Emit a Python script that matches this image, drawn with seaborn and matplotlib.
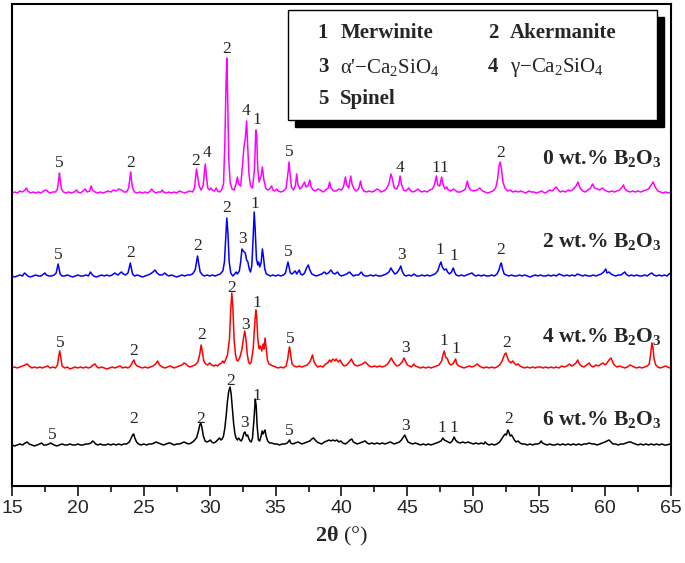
import matplotlib
matplotlib.use("Agg")
import matplotlib.pyplot as plt
from matplotlib.patches import Rectangle
from matplotlib.ticker import MultipleLocator
import pandas as pd
import seaborn as sns

# ==================== DATA ====================
# (2theta in degrees, intensity above the pattern's own baseline, a.u.)
pattern_0wt = [
    (15.0, 1), (15.2, 2), (15.4, 1), (15.6, 3), (15.8, 2), (16.0, 4), (16.1, 6), (16.2, 3), (16.4, 1), (16.6, 2),
    (16.8, 1), (17.0, 2), (17.2, 1), (17.4, 3), (17.6, 4), (17.75, 2), (17.9, 1), (18.1, 2), (18.3, 2), (18.45, 5),
    (18.55, 15), (18.6, 21), (18.65, 15), (18.75, 5), (18.9, 2), (19.1, 1), (19.3, 2), (19.5, 1), (19.7, 2), (19.9, 4),
    (20.0, 2), (20.2, 1), (20.4, 3), (20.55, 5), (20.7, 2), (20.9, 3), (21.0, 8), (21.1, 4), (21.3, 2), (21.5, 1),
    (21.7, 2), (21.9, 1), (22.1, 2), (22.3, 3), (22.5, 2), (22.7, 4), (22.9, 3), (23.1, 5), (23.3, 4), (23.5, 2),
    (23.7, 2), (23.85, 6), (23.95, 16), (24.0, 22), (24.05, 16), (24.15, 6), (24.3, 2), (24.5, 1), (24.7, 2), (24.9, 1),
    (25.1, 2), (25.3, 1), (25.5, 3), (25.6, 5), (25.7, 3), (25.9, 1), (26.1, 2), (26.3, 2), (26.4, 4), (26.5, 2),
    (26.7, 1), (26.9, 2), (27.1, 1), (27.3, 2), (27.5, 1), (27.7, 3), (27.9, 2), (28.1, 1), (28.3, 2), (28.5, 3),
    (28.7, 2), (28.85, 6), (28.95, 18), (29.0, 25), (29.08, 18), (29.2, 8), (29.35, 4), (29.5, 8), (29.6, 22), (29.67, 30),
    (29.74, 20), (29.85, 6), (30.0, 4), (30.1, 6), (30.2, 4), (30.35, 3), (30.5, 6), (30.6, 3), (30.75, 2), (30.9, 4),
    (31.05, 10), (31.15, 50), (31.24, 110), (31.3, 136), (31.36, 100), (31.45, 35), (31.55, 12), (31.7, 5), (31.85, 4), (32.0, 10),
    (32.1, 17), (32.2, 10), (32.35, 8), (32.5, 30), (32.6, 47), (32.7, 55), (32.8, 73), (32.88, 50), (32.98, 20), (33.1, 8),
    (33.25, 6), (33.4, 25), (33.5, 64), (33.56, 60), (33.65, 25), (33.75, 12), (33.9, 18), (34.0, 27), (34.1, 15), (34.25, 6),
    (34.4, 4), (34.55, 5), (34.7, 8), (34.8, 4), (34.95, 3), (35.1, 5), (35.2, 3), (35.4, 2), (35.6, 3), (35.8, 6),
    (35.95, 22), (36.02, 32), (36.1, 20), (36.2, 7), (36.35, 4), (36.5, 8), (36.6, 20), (36.7, 9), (36.85, 5), (37.0, 7),
    (37.2, 12), (37.3, 7), (37.45, 8), (37.6, 14), (37.7, 7), (37.85, 4), (38.0, 3), (38.2, 5), (38.4, 4), (38.6, 2),
    (38.8, 4), (39.0, 6), (39.1, 12), (39.2, 6), (39.4, 3), (39.6, 3), (39.8, 5), (40.0, 4), (40.15, 7), (40.3, 17),
    (40.4, 9), (40.55, 6), (40.7, 18), (40.8, 10), (40.95, 5), (41.1, 3), (41.3, 5), (41.45, 13), (41.55, 6), (41.7, 3),
    (41.9, 2), (42.1, 3), (42.3, 2), (42.5, 3), (42.7, 5), (42.85, 4), (43.0, 2), (43.2, 3), (43.4, 5), (43.6, 10),
    (43.75, 20), (43.85, 16), (44.0, 6), (44.2, 5), (44.35, 10), (44.45, 18), (44.55, 10), (44.7, 4), (44.9, 3), (45.1, 6),
    (45.2, 4), (45.4, 2), (45.6, 3), (45.8, 5), (45.95, 3), (46.1, 2), (46.3, 3), (46.5, 2), (46.7, 4), (46.9, 5),
    (47.05, 9), (47.2, 18), (47.3, 9), (47.45, 8), (47.6, 17), (47.7, 10), (47.85, 5), (48.0, 7), (48.1, 4), (48.3, 3),
    (48.5, 5), (48.6, 4), (48.8, 2), (49.0, 2), (49.2, 3), (49.4, 5), (49.55, 13), (49.65, 7), (49.8, 4), (50.0, 3),
    (50.3, 4), (50.5, 6), (50.7, 3), (50.9, 2), (51.1, 1), (51.3, 2), (51.5, 3), (51.7, 6), (51.85, 15), (51.95, 28),
    (52.05, 32), (52.15, 24), (52.25, 12), (52.4, 6), (52.6, 3), (52.8, 4), (53.0, 2), (53.2, 3), (53.4, 2), (53.6, 3),
    (53.8, 2), (54.0, 1), (54.2, 3), (54.4, 2), (54.6, 2), (54.8, 1), (55.0, 2), (55.2, 3), (55.4, 1), (55.6, 2),
    (55.8, 4), (56.0, 3), (56.15, 5), (56.3, 7), (56.45, 4), (56.6, 2), (56.8, 3), (57.0, 2), (57.2, 4), (57.4, 3),
    (57.6, 5), (57.8, 8), (57.95, 12), (58.1, 6), (58.3, 3), (58.5, 2), (58.7, 4), (58.9, 6), (59.05, 10), (59.2, 6),
    (59.4, 5), (59.6, 4), (59.8, 6), (59.95, 4), (60.1, 3), (60.3, 2), (60.5, 3), (60.7, 2), (60.9, 3), (61.1, 4),
    (61.3, 7), (61.4, 9), (61.5, 5), (61.7, 3), (61.9, 2), (62.1, 3), (62.3, 2), (62.5, 3), (62.7, 2), (62.9, 3),
    (63.1, 4), (63.3, 5), (63.5, 9), (63.65, 12), (63.8, 7), (64.0, 3), (64.2, 2), (64.4, 1), (64.6, 2), (64.8, 1),
    (65.0, 2),
]

pattern_2wt = [
    (15.0, 1), (15.2, 0), (15.4, 1), (15.6, 2), (15.8, 1), (15.95, 4), (16.05, 3), (16.2, 1), (16.4, 0), (16.6, 1),
    (16.8, 2), (17.0, 1), (17.2, 1), (17.4, 3), (17.5, 4), (17.6, 2), (17.8, 1), (18.0, 1), (18.2, 2), (18.35, 4),
    (18.45, 10), (18.5, 13), (18.56, 9), (18.65, 3), (18.8, 1), (19.0, 1), (19.2, 2), (19.4, 1), (19.6, 0), (19.8, 1),
    (20.0, 2), (20.2, 1), (20.4, 1), (20.6, 2), (20.8, 1), (20.95, 5), (21.05, 3), (21.2, 1), (21.4, 0), (21.6, 1),
    (21.8, 2), (22.0, 1), (22.2, 2), (22.4, 1), (22.6, 2), (22.8, 4), (22.9, 3), (23.05, 2), (23.2, 4), (23.3, 5),
    (23.45, 3), (23.6, 2), (23.8, 4), (23.92, 11), (23.98, 14), (24.05, 9), (24.15, 3), (24.3, 1), (24.5, 2), (24.7, 1),
    (24.9, 0), (25.1, 1), (25.3, 2), (25.5, 3), (25.7, 5), (25.85, 7), (26.0, 4), (26.2, 2), (26.4, 2), (26.6, 4),
    (26.75, 2), (26.9, 1), (27.1, 2), (27.3, 1), (27.5, 0), (27.7, 1), (27.9, 2), (28.1, 1), (28.3, 2), (28.5, 2),
    (28.7, 3), (28.9, 7), (29.0, 15), (29.08, 21), (29.16, 14), (29.28, 5), (29.45, 2), (29.6, 1), (29.8, 2), (30.0, 1),
    (30.2, 2), (30.4, 1), (30.6, 2), (30.8, 3), (31.0, 6), (31.12, 15), (31.22, 40), (31.3, 59), (31.38, 45), (31.48, 15),
    (31.6, 4), (31.75, 1), (31.9, 3), (32.0, 5), (32.1, 3), (32.25, 6), (32.35, 15), (32.45, 28), (32.55, 26), (32.7, 24),
    (32.8, 17), (32.9, 15), (33.0, 8), (33.1, 5), (33.2, 12), (33.3, 40), (33.38, 65), (33.45, 48), (33.55, 18), (33.65, 12),
    (33.72, 15), (33.8, 10), (33.9, 14), (34.0, 28), (34.08, 20), (34.18, 8), (34.3, 3), (34.45, 2), (34.6, 1), (34.8, 2),
    (35.0, 1), (35.2, 2), (35.4, 1), (35.6, 2), (35.75, 4), (35.87, 11), (35.94, 15), (36.02, 10), (36.12, 4), (36.25, 3),
    (36.4, 5), (36.5, 6), (36.6, 3), (36.7, 5), (36.8, 7), (36.9, 3), (37.05, 2), (37.2, 4), (37.35, 9), (37.48, 12),
    (37.6, 7), (37.75, 3), (37.9, 2), (38.1, 1), (38.3, 2), (38.5, 3), (38.7, 5), (38.85, 3), (39.0, 4), (39.2, 7),
    (39.35, 4), (39.5, 3), (39.7, 5), (39.85, 2), (40.0, 1), (40.2, 2), (40.4, 3), (40.6, 5), (40.75, 3), (40.9, 1),
    (41.1, 2), (41.3, 2), (41.5, 5), (41.65, 2), (41.8, 1), (42.0, 1), (42.2, 2), (42.4, 1), (42.6, 2), (42.8, 1),
    (43.0, 1), (43.2, 2), (43.4, 3), (43.6, 5), (43.75, 9), (43.88, 6), (44.05, 3), (44.2, 4), (44.4, 8), (44.5, 11),
    (44.6, 6), (44.75, 2), (44.9, 1), (45.1, 2), (45.3, 1), (45.5, 3), (45.7, 1), (45.9, 1), (46.1, 2), (46.3, 1),
    (46.5, 2), (46.7, 1), (46.9, 2), (47.1, 3), (47.3, 6), (47.45, 12), (47.55, 15), (47.65, 10), (47.8, 7), (47.95, 8),
    (48.05, 5), (48.2, 3), (48.35, 5), (48.48, 9), (48.58, 5), (48.7, 2), (48.9, 1), (49.1, 2), (49.3, 1), (49.5, 2),
    (49.7, 3), (49.9, 4), (50.05, 2), (50.2, 1), (50.4, 2), (50.6, 1), (50.8, 2), (51.0, 1), (51.2, 1), (51.4, 2),
    (51.6, 1), (51.8, 3), (51.95, 7), (52.05, 12), (52.13, 14), (52.22, 8), (52.35, 3), (52.5, 2), (52.7, 1), (52.9, 2),
    (53.1, 1), (53.3, 1), (53.5, 2), (53.7, 1), (53.9, 2), (54.1, 1), (54.3, 0), (54.5, 1), (54.7, 2), (54.9, 1),
    (55.1, 2), (55.3, 1), (55.5, 1), (55.7, 2), (55.9, 1), (56.1, 2), (56.3, 1), (56.5, 3), (56.7, 2), (56.9, 1),
    (57.1, 2), (57.3, 1), (57.5, 2), (57.7, 1), (57.9, 3), (58.1, 2), (58.3, 1), (58.5, 2), (58.7, 1), (58.9, 1),
    (59.1, 2), (59.3, 1), (59.5, 2), (59.7, 3), (59.9, 5), (60.05, 8), (60.15, 4), (60.3, 5), (60.45, 3), (60.6, 2),
    (60.8, 1), (61.0, 2), (61.2, 2), (61.4, 4), (61.5, 5), (61.6, 3), (61.8, 1), (62.0, 2), (62.2, 1), (62.4, 2),
    (62.6, 1), (62.8, 1), (63.0, 2), (63.2, 1), (63.4, 3), (63.55, 4), (63.7, 2), (63.9, 1), (64.1, 2), (64.3, 1),
    (64.5, 2), (64.7, 1), (64.85, 3), (65.0, 4),
]

pattern_4wt = [
    (15.0, 1), (15.2, 2), (15.4, 1), (15.6, 2), (15.8, 3), (16.0, 4), (16.15, 5), (16.3, 3), (16.5, 1), (16.7, 2),
    (16.9, 1), (17.1, 2), (17.3, 1), (17.5, 2), (17.7, 3), (17.9, 1), (18.1, 2), (18.3, 1), (18.45, 4), (18.55, 13),
    (18.62, 18), (18.7, 12), (18.8, 3), (19.0, 1), (19.2, 2), (19.4, 0), (19.6, 1), (19.8, 2), (20.0, 1), (20.2, 2),
    (20.4, 1), (20.6, 2), (20.8, 1), (21.0, 2), (21.15, 4), (21.3, 5), (21.45, 2), (21.6, 1), (21.8, 2), (22.0, 1),
    (22.2, 0), (22.4, 1), (22.6, 2), (22.8, 1), (23.0, 2), (23.2, 3), (23.4, 1), (23.6, 2), (23.8, 1), (24.0, 3),
    (24.15, 7), (24.25, 9), (24.35, 5), (24.5, 3), (24.7, 2), (24.9, 1), (25.1, 2), (25.3, 1), (25.5, 2), (25.7, 3),
    (25.9, 5), (26.05, 8), (26.2, 4), (26.4, 2), (26.6, 1), (26.8, 2), (27.0, 3), (27.15, 2), (27.3, 1), (27.5, 2),
    (27.7, 3), (27.9, 4), (28.05, 6), (28.2, 5), (28.35, 3), (28.5, 2), (28.7, 3), (28.9, 4), (29.1, 7), (29.25, 15),
    (29.35, 24), (29.45, 17), (29.55, 8), (29.7, 5), (29.85, 4), (30.0, 6), (30.15, 4), (30.3, 3), (30.45, 4), (30.6, 3),
    (30.75, 5), (30.9, 6), (31.0, 8), (31.1, 6), (31.2, 9), (31.35, 14), (31.5, 30), (31.6, 60), (31.68, 76), (31.76, 62),
    (31.85, 30), (31.95, 15), (32.05, 9), (32.15, 8), (32.3, 12), (32.45, 20), (32.58, 32), (32.66, 38), (32.75, 30), (32.85, 15),
    (32.95, 7), (33.05, 5), (33.15, 7), (33.3, 20), (33.42, 45), (33.5, 59), (33.57, 52), (33.65, 30), (33.75, 20), (33.85, 23),
    (33.95, 18), (34.05, 25), (34.12, 20), (34.2, 31), (34.28, 22), (34.38, 9), (34.5, 5), (34.65, 4), (34.8, 3), (35.0, 2),
    (35.2, 1), (35.4, 2), (35.6, 1), (35.8, 3), (35.92, 10), (36.0, 18), (36.06, 22), (36.14, 15), (36.25, 5), (36.4, 3),
    (36.6, 2), (36.8, 3), (37.0, 2), (37.2, 3), (37.4, 4), (37.6, 7), (37.72, 11), (37.8, 14), (37.9, 8), (38.05, 4),
    (38.2, 2), (38.4, 3), (38.6, 2), (38.8, 5), (38.95, 6), (39.1, 9), (39.2, 7), (39.35, 10), (39.5, 8), (39.6, 10),
    (39.75, 7), (39.9, 9), (40.05, 5), (40.2, 3), (40.4, 4), (40.6, 7), (40.75, 10), (40.85, 7), (41.0, 4), (41.2, 3),
    (41.4, 4), (41.6, 5), (41.8, 7), (41.95, 5), (42.1, 3), (42.3, 2), (42.5, 3), (42.7, 2), (42.9, 3), (43.1, 2),
    (43.3, 3), (43.5, 5), (43.65, 8), (43.78, 11), (43.9, 8), (44.05, 5), (44.2, 3), (44.4, 4), (44.6, 7), (44.75, 11),
    (44.85, 8), (45.0, 4), (45.15, 3), (45.3, 2), (45.5, 5), (45.6, 3), (45.8, 2), (46.0, 1), (46.2, 2), (46.4, 1),
    (46.6, 2), (46.8, 1), (47.0, 2), (47.2, 3), (47.4, 4), (47.6, 8), (47.72, 15), (47.8, 18), (47.9, 12), (48.05, 10),
    (48.15, 6), (48.3, 4), (48.45, 5), (48.58, 8), (48.66, 10), (48.75, 5), (48.9, 3), (49.1, 2), (49.3, 1), (49.5, 2),
    (49.7, 3), (49.9, 2), (50.1, 3), (50.3, 5), (50.45, 3), (50.6, 2), (50.8, 1), (51.0, 2), (51.2, 1), (51.4, 2),
    (51.6, 1), (51.8, 2), (52.0, 4), (52.15, 7), (52.3, 12), (52.4, 15), (52.48, 16), (52.58, 12), (52.7, 8), (52.85, 6),
    (53.0, 8), (53.1, 6), (53.25, 4), (53.4, 5), (53.55, 3), (53.7, 2), (53.9, 1), (54.1, 2), (54.3, 1), (54.5, 2),
    (54.7, 1), (54.9, 2), (55.1, 2), (55.3, 1), (55.5, 2), (55.7, 1), (55.9, 2), (56.1, 1), (56.3, 2), (56.5, 1),
    (56.7, 3), (56.9, 2), (57.1, 3), (57.3, 5), (57.45, 3), (57.6, 4), (57.8, 6), (57.92, 9), (58.05, 5), (58.2, 3),
    (58.4, 2), (58.6, 4), (58.8, 6), (58.95, 3), (59.1, 2), (59.3, 4), (59.5, 3), (59.7, 5), (59.85, 6), (60.0, 4),
    (60.15, 6), (60.3, 9), (60.45, 11), (60.58, 7), (60.7, 4), (60.9, 2), (61.1, 3), (61.3, 2), (61.5, 1), (61.7, 2),
    (61.9, 4), (62.05, 3), (62.2, 2), (62.4, 1), (62.6, 2), (62.8, 1), (63.0, 2), (63.2, 3), (63.35, 5), (63.45, 14),
    (63.55, 26), (63.63, 22), (63.72, 10), (63.85, 4), (64.0, 2), (64.2, 1), (64.4, 2), (64.6, 3), (64.75, 2), (64.9, 1),
    (65.0, 2),
]

pattern_6wt = [
    (15.0, 1), (15.2, 0), (15.4, 1), (15.6, 2), (15.8, 1), (16.0, 3), (16.15, 4), (16.3, 2), (16.5, 1), (16.7, 0),
    (16.9, 1), (17.1, 2), (17.25, 3), (17.4, 1), (17.6, 1), (17.8, 2), (17.95, 3), (18.05, 2), (18.2, 1), (18.4, 0),
    (18.6, 1), (18.8, 2), (19.0, 1), (19.2, 1), (19.4, 2), (19.6, 1), (19.8, 1), (20.0, 2), (20.2, 1), (20.4, 1),
    (20.6, 2), (20.8, 2), (21.0, 3), (21.12, 5), (21.22, 4), (21.35, 2), (21.5, 1), (21.7, 2), (21.9, 1), (22.1, 1),
    (22.3, 2), (22.5, 1), (22.7, 2), (22.9, 1), (23.1, 2), (23.3, 1), (23.5, 2), (23.7, 2), (23.9, 4), (24.05, 8),
    (24.15, 11), (24.23, 12), (24.32, 8), (24.45, 4), (24.6, 2), (24.8, 1), (25.0, 2), (25.2, 1), (25.4, 2), (25.6, 2),
    (25.8, 3), (25.95, 4), (26.1, 3), (26.3, 2), (26.5, 1), (26.7, 2), (26.9, 3), (27.0, 3), (27.15, 2), (27.3, 1),
    (27.5, 2), (27.7, 2), (27.9, 3), (28.05, 4), (28.2, 3), (28.4, 2), (28.6, 3), (28.8, 5), (29.0, 8), (29.15, 15),
    (29.25, 21), (29.33, 23), (29.42, 18), (29.52, 10), (29.65, 5), (29.8, 4), (29.95, 5), (30.05, 6), (30.15, 4), (30.3, 3),
    (30.45, 4), (30.6, 6), (30.75, 8), (30.85, 6), (30.95, 7), (31.05, 10), (31.15, 18), (31.25, 30), (31.35, 45), (31.45, 55),
    (31.55, 59), (31.63, 52), (31.72, 38), (31.82, 22), (31.92, 12), (32.0, 8), (32.1, 6), (32.2, 8), (32.3, 6), (32.4, 5),
    (32.5, 8), (32.6, 13), (32.68, 14), (32.78, 10), (32.88, 11), (32.95, 8), (33.05, 5), (33.15, 4), (33.25, 8), (33.38, 30),
    (33.46, 47), (33.53, 40), (33.6, 20), (33.7, 6), (33.8, 5), (33.9, 10), (33.98, 15), (34.05, 12), (34.12, 14), (34.2, 16),
    (34.28, 10), (34.4, 5), (34.55, 3), (34.7, 3), (34.9, 2), (35.1, 2), (35.3, 1), (35.5, 2), (35.7, 2), (35.9, 3),
    (36.0, 5), (36.06, 6), (36.15, 3), (36.3, 2), (36.5, 3), (36.7, 4), (36.85, 3), (37.0, 2), (37.2, 3), (37.4, 4),
    (37.6, 5), (37.75, 7), (37.88, 8), (38.0, 6), (38.15, 4), (38.3, 3), (38.5, 2), (38.7, 4), (38.9, 5), (39.05, 6),
    (39.2, 5), (39.35, 6), (39.5, 5), (39.65, 6), (39.8, 4), (39.95, 5), (40.1, 3), (40.3, 2), (40.5, 4), (40.65, 6),
    (40.78, 7), (40.9, 4), (41.05, 3), (41.2, 2), (41.4, 3), (41.6, 4), (41.8, 5), (41.95, 3), (42.1, 2), (42.3, 3),
    (42.5, 2), (42.7, 3), (42.9, 2), (43.1, 3), (43.3, 2), (43.5, 3), (43.7, 4), (43.85, 3), (44.0, 2), (44.2, 3),
    (44.4, 4), (44.55, 6), (44.7, 9), (44.8, 11), (44.9, 8), (45.05, 4), (45.2, 3), (45.4, 2), (45.6, 3), (45.8, 2),
    (46.0, 1), (46.2, 2), (46.4, 1), (46.6, 2), (46.8, 1), (47.0, 2), (47.2, 3), (47.4, 4), (47.55, 5), (47.7, 8),
    (47.8, 6), (47.95, 5), (48.1, 4), (48.25, 3), (48.4, 5), (48.55, 9), (48.65, 6), (48.8, 4), (49.0, 3), (49.2, 4),
    (49.4, 3), (49.6, 4), (49.8, 3), (50.0, 2), (50.2, 3), (50.4, 2), (50.6, 3), (50.8, 2), (50.9, 4), (51.05, 2),
    (51.2, 1), (51.4, 2), (51.6, 1), (51.8, 2), (52.0, 4), (52.15, 7), (52.3, 10), (52.42, 12), (52.52, 11), (52.62, 16),
    (52.7, 14), (52.8, 10), (52.9, 11), (53.0, 9), (53.12, 6), (53.25, 4), (53.4, 5), (53.55, 3), (53.7, 2), (53.9, 2),
    (54.1, 1), (54.3, 2), (54.5, 1), (54.7, 2), (54.9, 2), (55.05, 3), (55.15, 5), (55.25, 3), (55.4, 2), (55.6, 1),
    (55.8, 2), (56.0, 1), (56.2, 1), (56.4, 2), (56.6, 1), (56.8, 2), (57.0, 1), (57.2, 2), (57.4, 1), (57.6, 2),
    (57.8, 1), (58.0, 2), (58.2, 1), (58.4, 2), (58.6, 2), (58.8, 3), (59.0, 2), (59.2, 2), (59.4, 1), (59.6, 2),
    (59.8, 3), (60.0, 4), (60.15, 5), (60.3, 6), (60.45, 4), (60.6, 2), (60.8, 2), (61.0, 1), (61.2, 2), (61.4, 2),
    (61.6, 3), (61.8, 4), (61.95, 4), (62.1, 3), (62.3, 2), (62.5, 1), (62.7, 2), (62.9, 1), (63.1, 2), (63.3, 1),
    (63.5, 2), (63.7, 1), (63.9, 2), (64.1, 1), (64.3, 2), (64.5, 1), (64.7, 1), (64.9, 2), (65.0, 1),
]

# phase marks: (phase number, 2theta, height of the label above the baseline)
marks_0wt = [("5", 18.6, 27), ("2", 24.0, 27), ("2", 28.95, 29), ("4", 29.8, 37), ("2", 31.3, 141),
             ("4", 32.75, 79), ("1", 33.55, 70), ("5", 36.05, 38), ("4", 44.45, 22), ("1", 47.15, 22),
             ("1", 47.75, 22), ("2", 52.05, 37)]
marks_2wt = [("5", 18.5, 18), ("2", 24.0, 20), ("2", 29.1, 27), ("2", 31.3, 65), ("3", 32.5, 34),
             ("1", 33.4, 69), ("5", 35.95, 21), ("3", 44.55, 18), ("1", 47.5, 23), ("1", 48.5, 17),
             ("2", 52.1, 23)]
marks_4wt = [("5", 18.65, 22), ("2", 24.25, 14), ("2", 29.4, 30), ("2", 31.7, 77), ("3", 32.7, 40),
             ("1", 33.55, 62), ("5", 36.1, 26), ("3", 44.85, 17), ("1", 47.8, 24), ("1", 48.65, 16),
             ("2", 52.5, 22)]
marks_6wt = [("5", 18.05, 7), ("2", 24.25, 23), ("2", 29.35, 23), ("2", 31.6, 61), ("3", 32.68, 19),
             ("1", 33.55, 46), ("5", 36.07, 11), ("3", 44.85, 16), ("1", 47.65, 14), ("1", 48.55, 14),
             ("2", 52.7, 23)]

samples = ["0 wt.%", "2 wt.%", "4 wt.%", "6 wt.%"]
phase_names = ["Merwinite", "Akermanite", "\u03b1'\u2212Ca$_\\mathrm{2}$SiO$_\\mathrm{4}$",
               "\u03b3\u2212Ca$_\\mathrm{2}$SiO$_\\mathrm{4}$", "Spinel"]

# ==================== STYLE ====================
patterns = dict(zip(samples, [pattern_0wt, pattern_2wt, pattern_4wt, pattern_6wt]))
marks = dict(zip(samples, [marks_0wt, marks_2wt, marks_4wt, marks_6wt]))
colors = dict(zip(samples, ["#ff00ff", "#0000ff", "#ff0000", "#000000"]))
offsets = dict(zip(samples, [292, 209, 117, 40]))
label_lift = dict(zip(samples, [30, 30, 27, 21]))

sns.set_theme(style="ticks")
plt.rcParams["font.family"] = ["Liberation Serif", "DejaVu Serif"]
plt.rcParams["mathtext.fontset"] = "custom"
plt.rcParams["mathtext.rm"] = "Liberation Serif"
plt.rcParams["mathtext.bf"] = "Liberation Serif:bold"
plt.rcParams["mathtext.it"] = "Liberation Serif:italic"

rows = []
for s in samples:
    for tt, inten in patterns[s]:
        rows.append({"sample": s, "two_theta": tt, "y": inten + offsets[s]})
df = pd.DataFrame(rows)

fig = plt.figure(figsize=(6.85, 5.63), dpi=100)
ax = fig.add_axes([0.0175, 0.1368, 0.9620, 0.8561])

sns.lineplot(data=df, x="two_theta", y="y", hue="sample", palette=colors,
             estimator=None, sort=False, linewidth=1.1, legend=False, ax=ax)

for s in samples:
    for num, tt, h in marks[s]:
        ax.text(tt, offsets[s] + h, num, ha="center", va="baseline", fontsize=12.5)
    ax.text(64.3, offsets[s] + label_lift[s],
            s + " B$_\\mathbf{2}$O$_\\mathbf{3}$",
            ha="right", va="baseline", fontsize=15.5, fontweight="bold")

ax.set_xlim(15, 65)
ax.set_ylim(0, 482)
ax.set_yticks([])
ax.set_ylabel("")
ax.xaxis.set_major_locator(MultipleLocator(5))
ax.xaxis.set_minor_locator(MultipleLocator(2.5))
ax.tick_params(axis="x", which="major", direction="out", length=7, width=1.3, pad=3,
               labelsize=14, top=False)
ax.tick_params(axis="x", which="minor", direction="out", length=4.5, width=1.3, top=False)
for lab in ax.get_xticklabels():
    lab.set_family("Liberation Sans")
for sp in ax.spines.values():
    sp.set_visible(True)
    sp.set_linewidth(1.5)
    sp.set_color("black")
ax.set_xlabel("$\\mathbf{2\u03b8}$ (\u00b0)", fontsize=16, labelpad=6)

# legend box with drop shadow
bx, by, bw, bh = 0.4188, 0.7593, 0.560, 0.2282
ax.add_patch(Rectangle((bx + 0.0106, by - 0.0145), bw, bh, transform=ax.transAxes,
                       facecolor="black", edgecolor="black", zorder=5))
ax.add_patch(Rectangle((bx, by), bw, bh, transform=ax.transAxes,
                       facecolor="white", edgecolor="black", linewidth=1.0, zorder=6))
legend_slots = [(0.472, 0.940), (0.730, 0.940), (0.472, 0.869), (0.730, 0.869), (0.472, 0.803)]
for i, (name, (lx, ly)) in enumerate(zip(phase_names, legend_slots)):
    ax.text(lx, ly, str(i + 1), transform=ax.transAxes, ha="center", va="center",
            fontsize=15, fontweight="bold", zorder=7)
    weight = "normal" if "Ca" in name else "bold"
    ax.text(lx + 0.026, ly, name, transform=ax.transAxes, ha="left", va="center",
            fontsize=15, fontweight=weight, zorder=7)

fig.savefig("out.png", dpi=100)
plt.close(fig)
